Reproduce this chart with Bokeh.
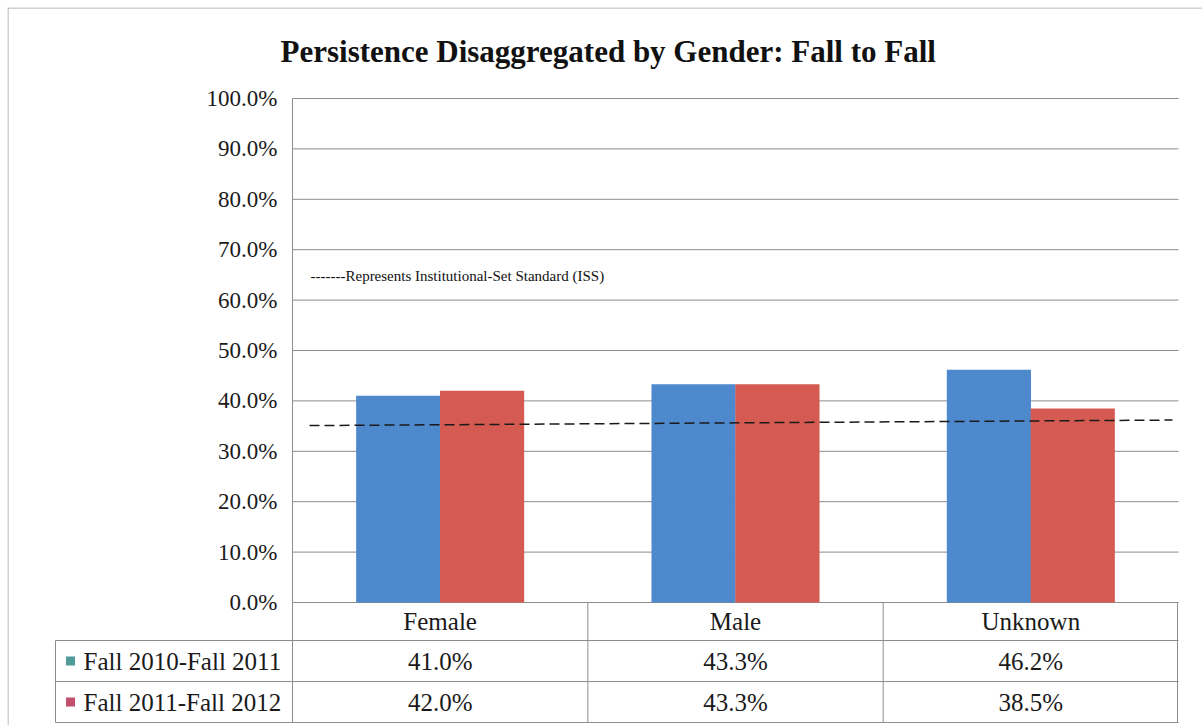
from bokeh.plotting import figure
from bokeh.models import Range1d, FixedTicker, PrintfTickFormatter, ColumnDataSource, Label
from bokeh.embed import file_html
from bokeh.resources import INLINE
from bokeh.core.properties import value

# ---------------- data ----------------
title_text = "Persistence Disaggregated by Gender: Fall to Fall"
categories = ["Female", "Male", "Unknown"]
series_names = ["Fall 2010-Fall 2011", "Fall 2011-Fall 2012"]
fall_2010_2011 = [41.0, 43.3, 46.2]
fall_2011_2012 = [42.0, 43.3, 38.5]
iss_level = [35.1, 36.2]          # dashed ISS line, left end / right end (%)
iss_note = "-------Represents Institutional-Set Standard (ISS)"
y_ticks = [0, 10, 20, 30, 40, 50, 60, 70, 80, 90, 100]

# ---------------- style / layout (pixels) ----------------
FONT = "Liberation Serif"
BLUE = "#4d89cc"
RED = "#d45a52"
KEY_BLUE = "#4f9c9a"
KEY_RED = "#c2506a"
GRID = "#8c8c8c"
BORDER = "#a4a4a4"
TEXT = "#1a1a1a"

W, H = 1202, 725
EDGE = 7                                    # outer chart border
P_L, P_R, P_T = 292, 1178, 98               # plot area
ZERO_PX = 602                               # pixel row of 0 %
PXU = (P_R - P_L) / 3.0                     # px per category
PPY = (ZERO_PX - P_T) / 100.0               # px per percent


def xd(px):
    return (px - P_L) / PXU


def yd(px):
    return (ZERO_PX - px) / PPY


ROW_PX = [602, 640, 681, 722]               # data-table row boundaries
ROW_MID = [621, 661, 702]
LEG_L_PX = 55
BAR_W = 0.285
OFFS = 0.142

p = figure(width=W, height=H, x_range=Range1d(xd(EDGE), xd(W)),
           y_range=Range1d(yd(H), yd(EDGE)), title=None,
           output_backend="svg", toolbar_location=None, x_axis_location=None,
           min_border_left=EDGE, min_border_right=0,
           min_border_top=EDGE, min_border_bottom=0)
p.outline_line_color = None
p.background_fill_color = "white"
p.border_fill_color = "white"
p.xgrid.visible = False
p.ygrid.visible = False

ax = p.yaxis[0]
ax.ticker = FixedTicker(ticks=y_ticks)
ax.formatter = PrintfTickFormatter(format="%.1f%%")
ax.major_tick_out = 0
ax.major_tick_in = 0
ax.minor_tick_out = 0
ax.minor_tick_in = 0
ax.axis_line_color = None
ax.major_label_standoff = -(277 - EDGE)
ax.major_label_text_font = FONT
ax.major_label_text_font_size = "23px"
ax.major_label_text_color = TEXT

# outer chart border
p.segment(x0=[xd(EDGE + 0.5), xd(EDGE)], x1=[xd(EDGE + 0.5), xd(W)],
          y0=[yd(EDGE), yd(EDGE + 0.5)], y1=[yd(H), yd(EDGE + 0.5)],
          line_color=BORDER, line_width=1)

# title
p.add_layout(Label(x=xd(280), y=yd(51), text=title_text, text_font=FONT,
                   text_font_size="31px", text_font_style="bold", text_color="#111111",
                   text_baseline="alphabetic"))

# horizontal gridlines and plot-area left edge
n = len(categories)
p.segment(x0=[0] * len(y_ticks), x1=[n] * len(y_ticks), y0=y_ticks, y1=y_ticks,
          line_color=GRID, line_width=1)
p.segment(x0=[0], x1=[0], y0=[100], y1=[yd(ROW_PX[3])], line_color=GRID, line_width=1)

# ---------------- bars ----------------
xs = [i + 0.5 for i in range(n)]
src = ColumnDataSource(dict(
    x1=[x - OFFS for x in xs], x2=[x + OFFS for x in xs],
    a=fall_2010_2011, b=fall_2011_2012))
p.vbar(x="x1", top="a", bottom=0, width=BAR_W, source=src, fill_color=BLUE, line_color=None)
p.vbar(x="x2", top="b", bottom=0, width=BAR_W, source=src, fill_color=RED, line_color=None)

# ISS line and note
p.segment(x0=[xd(309)], x1=[xd(1172)], y0=[iss_level[0]], y1=[iss_level[1]],
          line_color="#1a1a1a", line_width=1.5, line_dash="10 5")
p.add_layout(Label(x=xd(310), y=yd(275), text=iss_note, text_font=FONT,
                   text_font_size="15px", text_baseline="middle", text_color="#111111"))

# ---------------- data table ----------------
lx = xd(LEG_L_PX)
p.segment(x0=[lx] * 3, x1=[n] * 3, y0=[yd(r) for r in ROW_PX[1:]],
          y1=[yd(r) for r in ROW_PX[1:]], line_color=GRID, line_width=1)
vx = [lx, 1, 2, xd(P_R - 1)]
p.segment(x0=vx, x1=vx, y0=[yd(ROW_PX[1]), 0, 0, 0], y1=[yd(ROW_PX[3])] * 4,
          line_color=GRID, line_width=1)

cell_x, cell_y, cell_t = [], [], []
for i, c in enumerate(categories):
    cell_x += [i + 0.5] * 3
    cell_y += [yd(ROW_MID[0]), yd(ROW_MID[1]), yd(ROW_MID[2])]
    cell_t += [c, f"{fall_2010_2011[i]:.1f}%", f"{fall_2011_2012[i]:.1f}%"]
p.text(x=cell_x, y=cell_y, text=cell_t, text_align="center", text_baseline="middle",
       text_font=value(FONT), text_font_size="25px", text_color=TEXT)

# legend keys and series names
p.scatter(x=[xd(70)] * 2, y=[yd(ROW_MID[1] - 0.5), yd(ROW_MID[2] - 0.5)], marker="square",
          size=9, fill_color=[KEY_BLUE, KEY_RED], line_color=None)
p.text(x=[xd(83)] * 2, y=[yd(ROW_MID[1]), yd(ROW_MID[2])], text=series_names,
       text_align="left", text_baseline="middle", text_font=value(FONT),
       text_font_size="25px", text_color=TEXT)

open("out.html", "w").write(file_html(p, INLINE))
